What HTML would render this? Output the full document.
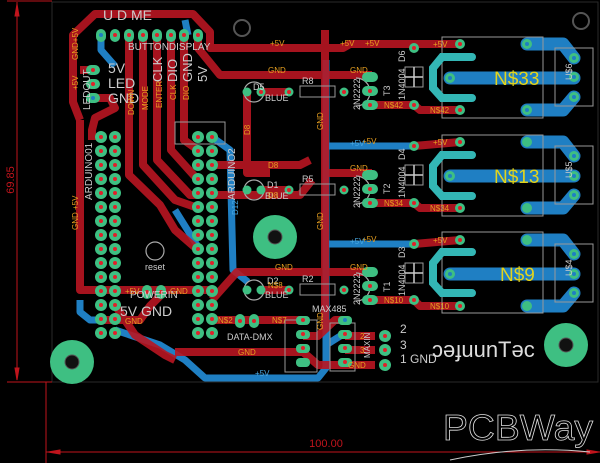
<!DOCTYPE html>
<html><head><meta charset="utf-8"><style>
html,body{margin:0;padding:0;background:#000;}
svg{display:block}
text{font-family:"Liberation Sans",sans-serif}
</style></head><body>
<svg width="600" height="463" viewBox="0 0 600 463" xmlns="http://www.w3.org/2000/svg">
<rect width="600" height="463" fill="#000"/>
<rect x="52" y="2" width="546" height="380" fill="none" stroke="#2a2a2a" stroke-width="1"/>
<g stroke="#c0141c" fill="#c0141c" stroke-width="1">
<line x1="17" y1="2" x2="17" y2="380"/>
<line x1="7" y1="1" x2="52" y2="1"/>
<line x1="7" y1="382" x2="52" y2="382"/>
<line x1="46" y1="382" x2="46" y2="463"/>
<line x1="46" y1="452" x2="600" y2="452"/>
<polygon points="17,4 15,16 19,16"/><polygon points="17,380 15,368 19,368"/>
<polygon points="48,452 60,450 60,454"/><polygon points="599,452 587,450 587,454"/>
</g>
<text x="0" y="0" transform="translate(14,180) rotate(-90)" fill="#c0141c" font-size="11" text-anchor="middle">69.85</text>
<text x="326" y="447" fill="#c0141c" font-size="11" text-anchor="middle">100.00</text>
<text x="518" y="440" fill="#000" stroke="#ddd" stroke-width="0.8" font-size="36" text-anchor="middle" textLength="150" lengthAdjust="spacingAndGlyphs">PCBWay</text>
<path d="M450 460 Q520 445 590 452" stroke="#ccc" fill="none" stroke-width="1"/>

<g stroke="#1f7fc3" stroke-width="7" fill="none" stroke-linejoin="round">
<path d="M101 35 L101 50 L115 66"/>
<path d="M185 20 L188 35"/>
<path d="M212 137 L230 150 L233 270 L248 282"/>
<path d="M80 300 L80 312 L90 320 L101 320"/>
<path d="M115 330 L160 345 L185 360 L205 378 L318 378 L326 368 L326 60"/>
<path d="M326 146 L413 146"/>
<path d="M326 244 L413 244"/>
<path d="M175 210 L200 250"/>
<path d="M345 333 L326 345"/>
</g>
<g stroke="#1f7fc3" fill="none" stroke-linecap="round" stroke-linejoin="round">
<g stroke-width="13">
<path d="M450 78 L574 78"/><path d="M527 44 L563 44 L574 58"/><path d="M527 110 L563 110 L574 97"/>
<path d="M450 176 L574 176"/><path d="M527 142 L563 142 L574 156"/><path d="M527 208 L563 208 L574 195"/>
<path d="M450 274 L574 274"/><path d="M527 240 L563 240 L574 254"/><path d="M527 306 L563 306 L574 293"/>
</g></g>

<g stroke="#b81622" stroke-width="8" fill="none" stroke-linejoin="round" opacity="0.9">
<path d="M80 120 L73 102 L73 35 L95 14 L193 14 L210 32 L210 48 L343 48 L350 44 L460 44"/>
<path d="M198 35 L198 48 L220 75 L372 75"/>
<path d="M93 70 L80 70"/><path d="M93 98 L110 98 L115 108 L95 118 L92 130 L92 140"/>
<path d="M80 120 L80 290 L101 290 L212 290"/>
<path d="M101 320 L140 320 L150 306 L160 296"/>
<path d="M129 35 L129 175 L160 205 L175 230 L198 250"/>
<path d="M143 35 L143 165 L175 200 L198 208"/>
<path d="M157 35 L157 160 L190 195 L198 195"/>
<path d="M171 35 L171 150 L198 180"/>
<path d="M184 35 L184 140 L198 150"/>
<path d="M115 305 L135 335 L165 355 L175 360"/>
<path d="M247 92 L247 173 L270 173"/>
<path d="M212 165 L300 165 L310 160"/><path d="M212 195 L300 195 L312 180"/>
<path d="M325 30 L325 330"/>
<path d="M212 300 L237 272 L372 272"/>
<path d="M323 173 L372 173"/>
<path d="M372 105 L414 105 L420 110 L460 110"/>
<path d="M372 203 L414 203 L420 208 L460 208"/>
<path d="M372 300 L414 300 L420 306 L460 306"/>
<path d="M414 146 L460 142"/><path d="M414 244 L460 240"/>
<path d="M262 92 L289 92"/><path d="M262 290 L289 290"/><path d="M262 190 L289 190"/>
<path d="M212 320 L303 320"/>
<path d="M175 352 L303 352 L318 365 L375 365"/>
<path d="M303 336 L318 336 L335 320 L348 320"/>
<path d="M345 336 L375 336"/><path d="M345 350 L375 350"/>
</g>

<g fill="#3ebf82"><circle cx="72" cy="362" r="22"/><circle cx="275" cy="237" r="22"/><circle cx="566" cy="345" r="22"/></g>
<g fill="#111" stroke="#555"><circle cx="72" cy="362" r="7"/><circle cx="275" cy="237" r="7"/><circle cx="566" cy="345" r="7"/></g>
<g fill="none" stroke="#555" stroke-width="2"><circle cx="242" cy="28" r="8"/><circle cx="581" cy="21" r="8"/></g>

<g fill="none" stroke="#999" stroke-width="1">
<rect x="442" y="37" width="101" height="81"/><rect x="555" y="48" width="38" height="58"/>
<rect x="442" y="135" width="101" height="81"/><rect x="555" y="146" width="38" height="58"/>
<rect x="442" y="232" width="101" height="81"/><rect x="555" y="244" width="38" height="58"/>
<rect x="405" y="67" width="18" height="20"/><rect x="405" y="165" width="18" height="20"/><rect x="405" y="263" width="18" height="20"/>
<rect x="300" y="86" width="35" height="11"/><rect x="300" y="184" width="35" height="11"/><rect x="300" y="284" width="35" height="11"/>
<rect x="285" y="320" width="32" height="52"/><rect x="330" y="323" width="25" height="48"/>
<rect x="175" y="122" width="50" height="22"/>
</g>
<g stroke="#ccc" stroke-width="1.5"><line x1="414" y1="67" x2="414" y2="87"/><line x1="405" y1="77" x2="423" y2="77"/><line x1="414" y1="165" x2="414" y2="185"/><line x1="405" y1="175" x2="423" y2="175"/><line x1="414" y1="263" x2="414" y2="283"/><line x1="405" y1="273" x2="423" y2="273"/></g>
<g stroke="#33b6b5" stroke-width="8" fill="none" stroke-linecap="round">
<path d="M472 57 L442 57 L433 68 L433 88 L442 98 L472 98"/>
<path d="M472 155 L442 155 L433 166 L433 186 L442 196 L472 196"/>
<path d="M472 252 L442 252 L433 263 L433 283 L442 293 L472 293"/>
</g>
<g fill="none" stroke="#aaa" stroke-width="1.2">
<circle cx="254" cy="92" r="10"/><circle cx="254" cy="190" r="10"/><circle cx="254" cy="290" r="10"/>
<path d="M356 78 A14 14 0 0 1 356 106" /><path d="M356 176 A14 14 0 0 1 356 204"/><path d="M356 273 A14 14 0 0 1 356 301"/>
<circle cx="155" cy="251" r="9"/>
</g>

<g fill="#3ebf82">
<rect x="96" y="29" width="10" height="13" rx="5"/><rect x="110" y="29" width="10" height="13" rx="5"/><rect x="124" y="29" width="10" height="13" rx="5"/><rect x="138" y="29" width="10" height="13" rx="5"/><rect x="152" y="29" width="10" height="13" rx="5"/><rect x="166" y="29" width="10" height="13" rx="5"/><rect x="179" y="29" width="10" height="13" rx="5"/><rect x="193" y="29" width="10" height="13" rx="5"/>
<rect x="86" y="65" width="14" height="10" rx="5"/><rect x="86" y="79" width="14" height="10" rx="5"/><rect x="86" y="93" width="14" height="10" rx="5"/>
<g id="col">
<circle cx="101" cy="137" r="6"/><circle cx="101" cy="151" r="6"/><circle cx="101" cy="165" r="6"/><circle cx="101" cy="179" r="6"/><circle cx="101" cy="193" r="6"/><circle cx="101" cy="207" r="6"/><circle cx="101" cy="221" r="6"/><circle cx="101" cy="235" r="6"/><circle cx="101" cy="249" r="6"/><circle cx="101" cy="263" r="6"/><circle cx="101" cy="277" r="6"/><circle cx="101" cy="291" r="6"/><circle cx="101" cy="305" r="6"/><circle cx="101" cy="319" r="6"/><circle cx="101" cy="333" r="6"/>
</g>
<use href="#col" x="14"/><use href="#col" x="97"/><use href="#col" x="111"/>
<rect x="142" y="285" width="10" height="14" rx="5"/><rect x="156" y="285" width="10" height="14" rx="5"/>
<rect x="235" y="314" width="10" height="14" rx="5"/><rect x="249" y="314" width="10" height="14" rx="5"/>
<circle cx="247" cy="92" r="4.5"/><circle cx="261" cy="92" r="4.5"/><circle cx="289" cy="92" r="4.5"/><circle cx="344" cy="92" r="4.5"/>
<circle cx="247" cy="190" r="4.5"/><circle cx="261" cy="190" r="4.5"/><circle cx="289" cy="190" r="4.5"/><circle cx="344" cy="190" r="4.5"/>
<circle cx="247" cy="290" r="4.5"/><circle cx="261" cy="290" r="4.5"/><circle cx="289" cy="290" r="4.5"/><circle cx="344" cy="290" r="4.5"/>
<rect x="362" y="72" width="16" height="10" rx="5"/><rect x="362" y="86" width="16" height="10" rx="5"/><rect x="362" y="100" width="16" height="10" rx="5"/>
<rect x="362" y="170" width="16" height="10" rx="5"/><rect x="362" y="184" width="16" height="10" rx="5"/><rect x="362" y="198" width="16" height="10" rx="5"/>
<rect x="362" y="267" width="16" height="10" rx="5"/><rect x="362" y="281" width="16" height="10" rx="5"/><rect x="362" y="295" width="16" height="10" rx="5"/>
<circle cx="414" cy="48" r="5"/><circle cx="414" cy="105" r="5"/><circle cx="460" cy="44" r="5"/><circle cx="460" cy="110" r="5"/>
<circle cx="414" cy="146" r="5"/><circle cx="414" cy="203" r="5"/><circle cx="460" cy="142" r="5"/><circle cx="460" cy="208" r="5"/>
<circle cx="414" cy="244" r="5"/><circle cx="414" cy="300" r="5"/><circle cx="460" cy="240" r="5"/><circle cx="460" cy="306" r="5"/>
<circle cx="527" cy="44" r="5"/><circle cx="527" cy="110" r="5"/><circle cx="450" cy="78" r="5"/><circle cx="574" cy="58" r="5"/><circle cx="574" cy="77" r="5"/><circle cx="574" cy="97" r="5"/>
<circle cx="527" cy="142" r="5"/><circle cx="527" cy="208" r="5"/><circle cx="450" cy="176" r="5"/><circle cx="574" cy="156" r="5"/><circle cx="574" cy="176" r="5"/><circle cx="574" cy="195" r="5"/>
<circle cx="527" cy="240" r="5"/><circle cx="527" cy="306" r="5"/><circle cx="450" cy="274" r="5"/><circle cx="574" cy="254" r="5"/><circle cx="574" cy="274" r="5"/><circle cx="574" cy="293" r="5"/>
<rect x="296" y="316" width="14" height="9" rx="4"/><rect x="296" y="330" width="14" height="9" rx="4"/><rect x="296" y="344" width="14" height="9" rx="4"/><rect x="296" y="358" width="14" height="9" rx="4"/>
<rect x="338" y="316" width="14" height="9" rx="4"/><rect x="338" y="330" width="14" height="9" rx="4"/><rect x="338" y="344" width="14" height="9" rx="4"/><rect x="338" y="358" width="14" height="9" rx="4"/>
<circle cx="385" cy="336" r="6"/><circle cx="385" cy="350" r="6"/><circle cx="385" cy="365" r="6"/>
</g>
<g fill="#e0202a">
<circle cx="115" cy="35" r="2"/><circle cx="129" cy="35" r="2"/><circle cx="143" cy="35" r="2"/><circle cx="157" cy="35" r="2"/><circle cx="171" cy="35" r="2"/><circle cx="184" cy="35" r="2"/><circle cx="198" cy="35" r="2"/>
<circle cx="93" cy="70" r="2"/><circle cx="93" cy="84" r="2"/>
<g id="dcol"><circle cx="101" cy="137" r="2"/><circle cx="101" cy="151" r="2"/><circle cx="101" cy="165" r="2"/><circle cx="101" cy="179" r="2"/><circle cx="101" cy="193" r="2"/><circle cx="101" cy="207" r="2"/><circle cx="101" cy="221" r="2"/><circle cx="101" cy="235" r="2"/><circle cx="101" cy="249" r="2"/><circle cx="101" cy="263" r="2"/><circle cx="101" cy="277" r="2"/><circle cx="101" cy="291" r="2"/><circle cx="101" cy="305" r="2"/><circle cx="101" cy="319" r="2"/><circle cx="101" cy="333" r="2"/></g>
<use href="#dcol" x="14"/><use href="#dcol" x="97"/><use href="#dcol" x="111"/>
<circle cx="147" cy="292" r="2"/><circle cx="161" cy="292" r="2"/><circle cx="240" cy="321" r="2"/><circle cx="254" cy="321" r="2"/>
<circle cx="370" cy="91" r="2"/><circle cx="370" cy="105" r="2"/><circle cx="370" cy="189" r="2"/><circle cx="370" cy="203" r="2"/><circle cx="370" cy="286" r="2"/><circle cx="370" cy="300" r="2"/>
<circle cx="414" cy="48" r="2"/><circle cx="414" cy="105" r="2"/><circle cx="460" cy="44" r="2"/><circle cx="460" cy="110" r="2"/>
<circle cx="414" cy="146" r="2"/><circle cx="414" cy="203" r="2"/><circle cx="460" cy="142" r="2"/><circle cx="460" cy="208" r="2"/>
<circle cx="414" cy="244" r="2"/><circle cx="414" cy="300" r="2"/><circle cx="460" cy="240" r="2"/><circle cx="460" cy="306" r="2"/>
<circle cx="261" cy="92" r="2"/><circle cx="289" cy="92" r="2"/><circle cx="344" cy="92" r="2"/><circle cx="289" cy="190" r="2"/><circle cx="344" cy="190" r="2"/><circle cx="289" cy="290" r="2"/><circle cx="344" cy="290" r="2"/>
<circle cx="303" cy="320" r="2"/><circle cx="303" cy="334" r="2"/><circle cx="303" cy="348" r="2"/><circle cx="345" cy="334" r="2"/><circle cx="345" cy="348" r="2"/><circle cx="345" cy="362" r="2"/>
<circle cx="385" cy="336" r="2"/><circle cx="385" cy="350" r="2"/><circle cx="385" cy="365" r="2"/>
</g>
<g fill="#1f7fc3"><circle cx="101" cy="35" r="2"/><circle cx="93" cy="98" r="2"/><circle cx="450" cy="78" r="2"/><circle cx="450" cy="176" r="2"/><circle cx="450" cy="274" r="2"/><circle cx="527" cy="44" r="2"/><circle cx="527" cy="110" r="2"/><circle cx="574" cy="58" r="2"/><circle cx="574" cy="77" r="2"/><circle cx="574" cy="97" r="2"/><circle cx="574" cy="156" r="2"/><circle cx="574" cy="176" r="2"/><circle cx="574" cy="195" r="2"/><circle cx="574" cy="254" r="2"/><circle cx="574" cy="274" r="2"/><circle cx="574" cy="293" r="2"/><circle cx="345" cy="320" r="2"/></g>

<g fill="#ccc" font-size="12">
<text x="103" y="20" font-size="14">U D ME</text>
<text x="108" y="73" font-size="14">5V</text><text x="108" y="88" font-size="14">LED</text><text x="108" y="103" font-size="14">GND</text>
<text x="130" y="298" font-size="10">POWERIN</text><text x="145" y="270" font-size="9">reset</text>
<text x="120" y="316" font-size="14">5V GND</text>
<text x="227" y="340" font-size="9">DATA-DMX</text><text x="312" y="312" font-size="9">MAX485</text>
<text x="400" y="333">2</text><text x="400" y="349">3</text><text x="400" y="363">1 GND</text>
<text x="432" y="357" font-size="22" fill="#ddd">ɔǝɟuunTǝc</text>
<text x="253" y="90" font-size="9">D5</text><text x="265" y="101" font-size="9">BLUE</text>
<text x="267" y="188" font-size="9">D1</text><text x="265" y="199" font-size="9">BLUE</text>
<text x="267" y="284" font-size="9">D2</text><text x="265" y="298" font-size="9">BLUE</text>
<text x="302" y="84" font-size="9">R8</text><text x="302" y="182" font-size="9">R5</text><text x="302" y="282" font-size="9">R2</text>
<text font-size="10" transform="translate(128,50)">BUTTONDISPLAY</text>
<text font-size="9" transform="translate(405,100) rotate(-90)">1N4004</text><text font-size="9" transform="translate(405,198) rotate(-90)">1N4004</text><text font-size="9" transform="translate(405,296) rotate(-90)">1N4004</text>
<text font-size="9" transform="translate(360,110) rotate(-90)">2N2222</text><text font-size="9" transform="translate(360,208) rotate(-90)">2N2222</text><text font-size="9" transform="translate(360,305) rotate(-90)">2N2222</text>
<text font-size="9" transform="translate(390,96) rotate(-90)">T3</text><text font-size="9" transform="translate(390,194) rotate(-90)">T2</text><text font-size="9" transform="translate(390,292) rotate(-90)">T1</text>
<text font-size="9" transform="translate(405,62) rotate(-90)">D6</text><text font-size="9" transform="translate(405,160) rotate(-90)">D4</text><text font-size="9" transform="translate(405,258) rotate(-90)">D3</text>
<text font-size="9" transform="translate(572,80) rotate(-90)">U$6</text><text font-size="9" transform="translate(572,178) rotate(-90)">U$5</text><text font-size="9" transform="translate(572,276) rotate(-90)">U$4</text>
<text font-size="10" transform="translate(92,200) rotate(-90)">ARDUINO01</text><text font-size="10" transform="translate(235,200) rotate(-90)">ARDUINO2</text>
<text font-size="10" transform="translate(90,110) rotate(-90)">LEDOUT</text>
<text font-size="13" transform="translate(162,82) rotate(-90)">CLK</text><text font-size="13" transform="translate(177,82) rotate(-90)">DIO</text><text font-size="13" transform="translate(192,82) rotate(-90)">GND</text><text font-size="13" transform="translate(207,82) rotate(-90)">5V</text>
<text font-size="8" transform="translate(370,358) rotate(-90)">MAXIN</text>
</g>
<g fill="#e2d41e" font-size="19"><text x="494" y="85">N$33</text><text x="494" y="183">N$13</text><text x="500" y="281">N$9</text></g>
<g fill="#e8a020" font-size="8">
<text x="270" y="46">+5V</text><text x="340" y="46">+5V</text><text x="365" y="46">+5V</text><text x="433" y="47">+5V</text>
<text x="350" y="73">GND</text><text x="268" y="73">GND</text><text x="384" y="108">N$42</text><text x="430" y="113">N$42</text>
<text x="362" y="144">+5V</text><text x="433" y="145">+5V</text><text x="350" y="171">GND</text><text x="384" y="206">N$34</text><text x="430" y="211">N$34</text>
<text x="362" y="242">+5V</text><text x="433" y="243">+5V</text><text x="350" y="270">GND</text><text x="275" y="270">GND</text><text x="384" y="303">N$10</text><text x="430" y="309">N$10</text>
<text x="268" y="168">D8</text><text x="268" y="198">D8</text><text x="268" y="288">N$8</text>
<text x="125" y="294">+5V</text><text x="170" y="294">GND</text><text x="125" y="324">GND</text>
<text x="218" y="323">N$2</text><text x="272" y="323">N$7</text><text x="238" y="355">GND</text><text x="360" y="339">2</text><text x="360" y="353">3</text><text x="348" y="368">GND</text>
<text transform="translate(78,230) rotate(-90)">GND +5V</text><text transform="translate(78,90) rotate(-90)">+5V</text><text transform="translate(78,60) rotate(-90)">GND+5V</text>
<text transform="translate(323,130) rotate(-90)">GND</text><text transform="translate(323,230) rotate(-90)">GND</text><text transform="translate(323,330) rotate(-90)">GND</text>
<text transform="translate(250,135) rotate(-90)">D8</text>
<text transform="translate(134,115) rotate(-90)">DOWN</text><text transform="translate(148,110) rotate(-90)">MODE</text><text transform="translate(162,108) rotate(-90)">ENTER</text><text transform="translate(176,100) rotate(-90)">CLK</text><text transform="translate(189,100) rotate(-90)">DIO</text>
</g>
<g fill="#4aa8e0" font-size="8"><text x="350" y="146">+5V</text><text x="350" y="244">+5V</text><text x="255" y="376">+5V</text><text transform="translate(238,215) rotate(-90)">D12</text></g>
</svg>
</body></html>
